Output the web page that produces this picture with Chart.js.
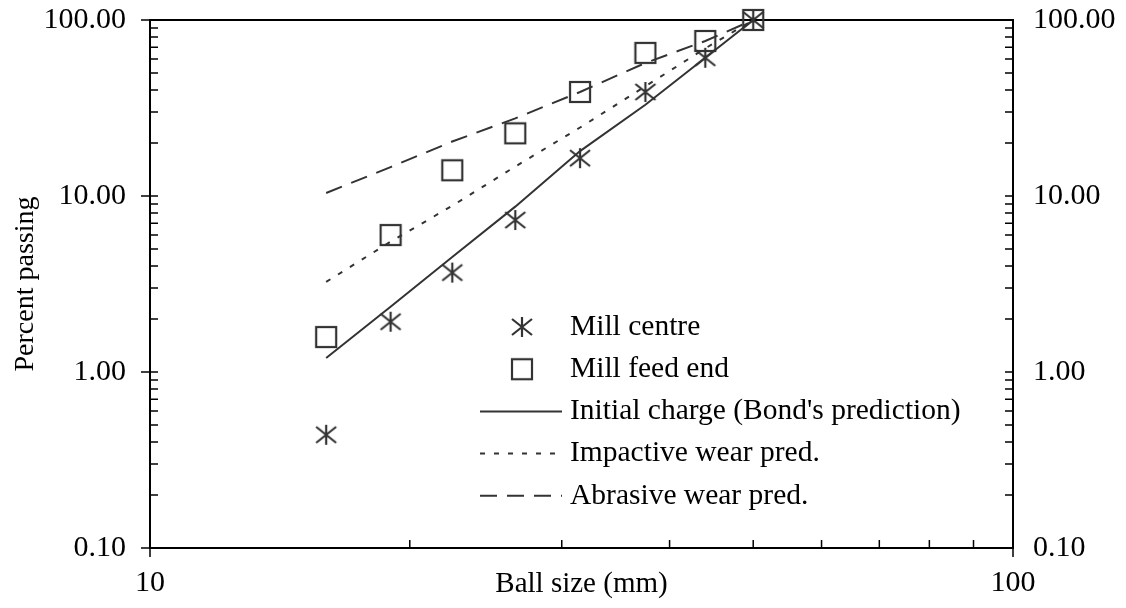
<!DOCTYPE html>
<html>
<head>
<meta charset="utf-8">
<script src="https://cdn.jsdelivr.net/npm/chart.js@4.4.1/dist/chart.umd.min.js"></script>
<style>
  html, body { margin: 0; padding: 0; background: #fff; }
  #wrap { width: 1126px; height: 608px; }
</style>
</head>
<body>
<div id="wrap"><canvas id="ballChart" width="1126" height="608"></canvas></div>
<script>
// ball sizes (mm) and percent passing
var ballSize = [16, 19, 22.4, 26.5, 31.5, 37.5, 44, 50];
var millCentre = [0.44, 1.93, 3.67, 7.3, 16.4, 39, 61, 100];
var millFeedEnd = [1.58, 6.0, 14.0, 22.7, 39, 65, 76, 100];
var bondPred = [1.2, 2.35, 4.5, 8.7, 18, 33, 61, 100];
var impactivePred = [3.25, 5.5, 8.8, 14.7, 24.5, 42, 69, 100];
var abrasivePred = [10.4, 14.6, 20.4, 27.6, 39, 57, 76, 100];

var xTicks = [10, 100];
var yTicks = [0.1, 1, 10, 100];

var ink = '#333';
var serif = "'Liberation Serif', 'Times New Roman', serif";

function pairs(ys) {
  return ballSize.map(function(x, i) { return { x: x, y: ys[i] }; });
}

function makeAsterisk() {
  var c = document.createElement('canvas');
  c.width = 24; c.height = 24;
  var g = c.getContext('2d');
  g.strokeStyle = ink;
  g.lineWidth = 2.2;
  g.beginPath();
  g.moveTo(12, 2); g.lineTo(12, 22);
  g.moveTo(2, 4); g.lineTo(22, 20);
  g.moveTo(2, 20); g.lineTo(22, 4);
  g.stroke();
  return c;
}

function makeSquare() {
  var c = document.createElement('canvas');
  c.width = 24; c.height = 24;
  var g = c.getContext('2d');
  g.strokeStyle = ink;
  g.lineWidth = 2.2;
  g.strokeRect(2, 2, 20, 20);
  return c;
}

var asterisk = makeAsterisk();
var square = makeSquare();

// frame + log tick marks (majors poke outwards, minors point inwards)
var axisMarks = {
  id: 'axisMarks',
  beforeDatasetsDraw: function(chart) {
    var ctx = chart.ctx, a = chart.chartArea;
    var xs = chart.scales.x, ys = chart.scales.y;
    ctx.save();
    ctx.strokeStyle = '#000';
    ctx.lineWidth = 1.5;
    ctx.beginPath();
    yTicks.forEach(function(v, i) {
      var py = ys.getPixelForValue(v);
      ctx.moveTo(a.left - 9, py); ctx.lineTo(a.left + 8, py);
      ctx.moveTo(a.right - 8, py); ctx.lineTo(a.right, py);
      if (i < yTicks.length - 1) {
        for (var k = 2; k <= 9; k++) {
          var pm = ys.getPixelForValue(v * k);
          ctx.moveTo(a.left, pm); ctx.lineTo(a.left + 8, pm);
          ctx.moveTo(a.right - 8, pm); ctx.lineTo(a.right, pm);
        }
      }
    });
    xTicks.forEach(function(v, i) {
      var px = xs.getPixelForValue(v);
      ctx.moveTo(px, a.bottom); ctx.lineTo(px, a.bottom + 9);
      if (i < xTicks.length - 1) {
        for (var k = 2; k <= 9; k++) {
          var pm = xs.getPixelForValue(v * k);
          ctx.moveTo(pm, a.bottom - 8); ctx.lineTo(pm, a.bottom);
        }
      }
    });
    ctx.stroke();
    ctx.lineWidth = 2;
    ctx.strokeRect(a.left, a.top, a.right - a.left, a.bottom - a.top);
    ctx.restore();
  }
};

// legend sits inside the plot, below the curves
var innerLegend = {
  id: 'innerLegend',
  afterDatasetsDraw: function(chart) {
    var ctx = chart.ctx;
    var x0 = 480, x1 = 562, xm = 522, tx = 570, top = 327, step = 42.2;
    ctx.save();
    chart.data.datasets.forEach(function(ds, i) {
      var y = top + i * step;
      if (ds.showLine === false) {
        ctx.drawImage(ds.pointStyle, xm - 12, y - 12);
      } else {
        ctx.strokeStyle = ds.borderColor;
        ctx.lineWidth = ds.borderWidth;
        ctx.setLineDash(ds.borderDash || []);
        ctx.beginPath();
        ctx.moveTo(x0, y); ctx.lineTo(x1, y);
        ctx.stroke();
        ctx.setLineDash([]);
      }
      ctx.fillStyle = '#000';
      ctx.font = '29.5px ' + serif;
      ctx.textBaseline = 'middle';
      ctx.textAlign = 'left';
      ctx.fillText(ds.label, tx, y);
    });
    ctx.restore();
  }
};

function logAxis(opts) {
  var base = {
    type: 'logarithmic',
    grid: { display: false, drawTicks: false },
    border: { display: false },
    ticks: {
      autoSkip: false,
      maxRotation: 0,
      color: '#000',
      font: { family: serif, size: 30 }
    }
  };
  Object.keys(opts).forEach(function(k) {
    if (k === 'ticks') Object.assign(base.ticks, opts.ticks);
    else base[k] = opts[k];
  });
  return base;
}

function fixWidth(w) {
  return function(s) {
    s.width = w;
    s.paddingTop = 0;
    s.paddingBottom = 0;
  };
}

var ctx = document.getElementById('ballChart').getContext('2d');
var ballChart = new Chart(ctx, {
  type: 'line',
  data: {
    datasets: [{
      label: 'Mill centre',
      data: pairs(millCentre),
      showLine: false,
      pointStyle: asterisk,
      pointRadius: 10,
      clip: false
    }, {
      label: 'Mill feed end',
      data: pairs(millFeedEnd),
      showLine: false,
      pointStyle: square,
      pointRadius: 10,
      clip: false
    }, {
      label: "Initial charge (Bond's prediction)",
      data: pairs(bondPred),
      borderColor: ink,
      borderWidth: 2,
      pointRadius: 0,
      tension: 0
    }, {
      label: 'Impactive wear pred.',
      data: pairs(impactivePred),
      borderColor: ink,
      borderWidth: 2,
      borderDash: [5, 9],
      pointRadius: 0,
      tension: 0
    }, {
      label: 'Abrasive wear pred.',
      data: pairs(abrasivePred),
      borderColor: ink,
      borderWidth: 2,
      borderDash: [17, 10],
      pointRadius: 0,
      tension: 0
    }]
  },
  options: {
    responsive: false,
    animation: false,
    layout: { padding: { top: 20 } },
    plugins: {
      legend: { display: false },
      tooltip: { enabled: false }
    },
    scales: {
      x: logAxis({
        min: 10, max: 100, position: 'bottom',
        afterBuildTicks: function(s) { s.ticks = xTicks.map(function(v) { return { value: v }; }); },
        afterFit: function(s) { s.height = 60; s.paddingLeft = 0; s.paddingRight = 0; },
        ticks: { padding: 17, callback: function(v) { return String(v); } },
        title: { display: true, text: 'Ball size (mm)', color: '#000',
                 font: { family: serif, size: 29 }, padding: { top: 0, bottom: 6 } }
      }),
      y: logAxis({
        min: 0.1, max: 100, position: 'left',
        afterBuildTicks: function(s) { s.ticks = yTicks.map(function(v) { return { value: v }; }); },
        afterFit: fixWidth(150),
        ticks: { padding: 24, callback: function(v) { return Number(v).toFixed(2); } },
        title: { display: true, text: 'Percent passing', color: '#000',
                 font: { family: serif, size: 28 }, padding: { top: 9, bottom: 0 } }
      }),
      y2: logAxis({
        min: 0.1, max: 100, position: 'right',
        afterBuildTicks: function(s) { s.ticks = yTicks.map(function(v) { return { value: v }; }); },
        afterFit: fixWidth(113),
        ticks: { padding: 20, callback: function(v) { return Number(v).toFixed(2); } }
      })
    }
  },
  plugins: [axisMarks, innerLegend]
});
</script>
</body>
</html>
